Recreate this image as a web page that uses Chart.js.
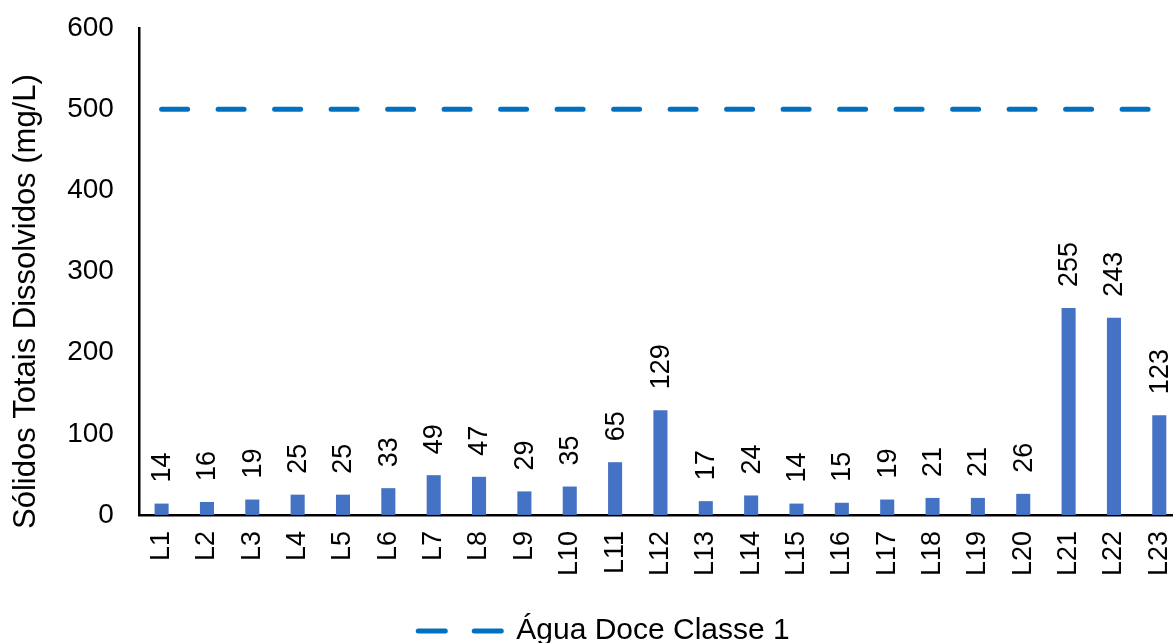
<!DOCTYPE html>
<html>
<head>
<meta charset="utf-8">
<script src="https://cdn.jsdelivr.net/npm/chart.js@4/dist/chart.umd.min.js"></script>
<style>
  body { margin: 0; background: #fff; overflow: hidden; }
  #wrap { width: 1208px; height: 656px; }
</style>
</head>
<body>
<div id="wrap"><canvas id="myChart"></canvas></div>
<script>
let labels = ['L1','L2','L3','L4','L5','L6','L7','L8','L9','L10','L11','L12','L13','L14','L15','L16','L17','L18','L19','L20','L21','L22','L23'];
let tds = [14,16,19,25,25,33,49,47,29,35,65,129,17,24,14,15,19,21,21,26,255,243,123];
let limite = [500,500,500,500,500,500,500,500,500,500,500,500,500,500,500,500,500,500,500,500,500,500,500];
let limiteNome = 'Água Doce Classe 1';
let yTitulo = 'Sólidos Totais Dissolvidos (mg/L)';
let yTicks = [0, 100, 200, 300, 400, 500, 600];

const fontFamily = '"Liberation Sans", Arial, sans-serif';

// rotated value labels above each bar
let barLabels = {
  id: 'barLabels',
  afterDatasetsDraw(chart) {
    let ctx = chart.ctx;
    let meta = chart.getDatasetMeta(0);
    ctx.save();
    ctx.fillStyle = '#000';
    ctx.font = '27px ' + fontFamily;
    ctx.textAlign = 'left';
    ctx.textBaseline = 'middle';
    meta.data.forEach((bar, i) => {
      ctx.save();
      ctx.translate(bar.x + 1, bar.y - 21);
      ctx.rotate(-Math.PI / 2);
      ctx.fillText(String(tds[i]), 0, 0);
      ctx.restore();
    });
    ctx.restore();
  }
};

let ctx = document.getElementById('myChart').getContext('2d');
let myChart = new Chart(ctx, {
  data: {
    labels: labels,
    datasets: [{
      type: 'bar',
      label: 'TDS',
      data: tds,
      backgroundColor: '#4472C4',
      barPercentage: 0.31,
      categoryPercentage: 1,
      order: 2
    }, {
      type: 'line',
      label: limiteNome,
      data: limite,
      borderColor: '#0070C0',
      backgroundColor: '#0070C0',
      borderWidth: 5,
      borderDash: [26, 30.5],
      borderCapStyle: 'round',
      pointRadius: 0,
      fill: false,
      order: 1
    }]
  },
  options: {
    responsive: true,
    maintainAspectRatio: false,
    animation: false,
    layout: {
      padding: { top: 28, left: 0, right: 0, bottom: 0 }
    },
    plugins: {
      tooltip: { enabled: false },
      legend: {
        position: 'bottom',
        labels: {
          filter: (item) => item.datasetIndex === 1,
          generateLabels: (chart) => {
            let items = Chart.defaults.plugins.legend.labels.generateLabels(chart);
            items.forEach(it => {
              it.lineDash = [27, 29];
              it.lineCap = 'round';
              it.lineWidth = 5;
            });
            return items;
          },
          usePointStyle: true,
          pointStyle: 'line',
          pointStyleWidth: 83,
          boxWidth: 83,
          boxHeight: 10,
          padding: 24,
          color: '#000',
          font: { family: fontFamily, size: 30 }
        }
      }
    },
    scales: {
      x: {
        offset: true,
        grid: { display: false, drawTicks: false },
        border: { display: true, color: '#000', width: 2.5 },
        ticks: {
          color: '#000',
          padding: 16,
          maxRotation: 90,
          minRotation: 90,
          autoSkip: false,
          font: { family: fontFamily, size: 27 }
        }
      },
      y: {
        min: 0,
        max: 600,
        afterBuildTicks: (scale) => {
          scale.ticks = yTicks.map(v => ({ value: v }));
        },
        afterFit: (scale) => { scale.paddingTop = 0; },
        grid: { display: false, drawTicks: false },
        border: { display: true, color: '#000', width: 2.5 },
        ticks: {
          color: '#000',
          padding: 25,
          font: { family: fontFamily, size: 28 }
        },
        title: {
          display: true,
          // trailing spaces push the text down like in the original
          text: yTitulo + '       ',
          color: '#000',
          padding: { top: 8, bottom: -3 },
          font: { family: fontFamily, size: 31 }
        }
      },
      yRight: {
        position: 'right',
        display: true,
        grid: { display: false, drawTicks: false },
        border: { display: false },
        ticks: { display: false },
        afterFit: (scale) => { scale.width = 14; }
      }
    }
  },
  plugins: [barLabels]
});
</script>
</body>
</html>
